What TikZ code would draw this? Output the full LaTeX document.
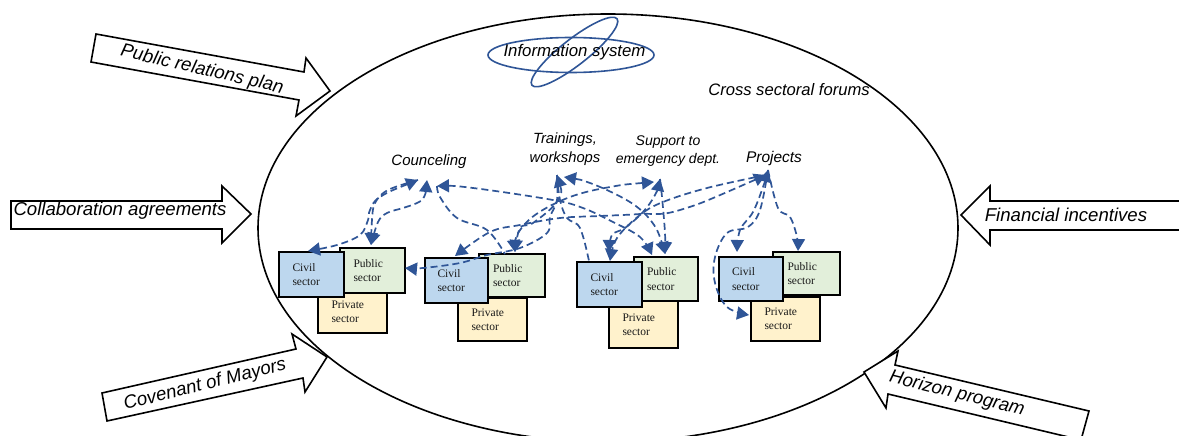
\documentclass[tikz,border=0pt]{standalone}
\usepackage{fontspec}
\setmainfont{Liberation Serif}
\newfontfamily\lab{Liberation Sans}
\usetikzlibrary{arrows.meta,shapes.geometric}
\definecolor{flowblue}{HTML}{2F5597}
\definecolor{civilc}{HTML}{BDD7EE}
\definecolor{publicc}{HTML}{E2EFDA}
\definecolor{privatec}{HTML}{FFF2CC}
\tikzset{
  x=1pt,y=-1pt,
  bigarrow/.style={draw=black,line width=1.6pt,fill=white,line join=miter},
  lbl/.style={font=\lab\itshape\fontsize{15}{17}\selectfont,align=center,inner sep=0pt,text=black},
  lblsmall/.style={lbl,font=\lab\itshape\fontsize{14}{18.5}\selectfont},
  arrlbl/.style={font=\lab\itshape\fontsize{18.6}{20}\selectfont,inner sep=0pt,text=black},
  sector/.style={draw=black,line width=2pt,anchor=north west,align=left,inner sep=0pt,
     font=\fontsize{11.5}{14.3}\selectfont,text=black!90},
  civilbox/.style={sector,fill=civilc,text width=38pt},
  publicbox/.style={sector,fill=publicc,text width=38pt},
  privatebox/.style={sector,fill=privatec,text width=42pt},
  flow/.style={draw=flowblue,line width=1.7pt,dash pattern=on 7pt off 4pt,
     -{Triangle[length=12pt,width=13pt,fill=flowblue]}},
  flowb/.style={flow,{Triangle[length=12pt,width=13pt,fill=flowblue]}-{Triangle[length=12pt,width=13pt,fill=flowblue]}},
  flowplain/.style={draw=flowblue,line width=1.7pt,dash pattern=on 7pt off 4pt},
  infoell/.style={draw=flowblue,line width=1.6pt},
}
\begin{document}
\begin{tikzpicture}
\useasboundingbox (0,0) rectangle (1179,436);
\clip (0,0) rectangle (1179,436);
\fill[white] (0,0) rectangle (1179,436);

% main ellipse
\node[draw=black,line width=1.6pt,ellipse,minimum width=700pt,minimum height=428pt,inner sep=0pt] (forum) at (608,228) {};

% information system
\node[infoell,ellipse,minimum width=166pt,minimum height=35pt,inner sep=0pt] (infoA) at (571,55) {};
\node[infoell,ellipse,minimum width=108pt,minimum height=26pt,inner sep=0pt,rotate=38] (infoB) at (574.5,52) {};
\node[lbl,font=\lab\itshape\fontsize{16.8}{17}\selectfont] (infotxt) at (574.5,52) {Information system};
\node[lbl,font=\lab\itshape\fontsize{16.6}{17}\selectfont] (cross) at (789,90) {Cross sectoral forums};

% block arrows
\draw[bigarrow] (96,34)--(91,62)--(299,100)--(296,116)--(330,91)--(306,58)--(304,72)--cycle;
\draw[bigarrow] (11,201)--(11,229)--(222,229)--(222,243)--(251,214)--(222,186)--(222,201)--cycle;
\draw[bigarrow] (102,393)--(107,421)--(303,378)--(305,392)--(327,357)--(292,334)--(296,349)--cycle;
\draw[bigarrow] (961,215)--(990,186)--(990,201)--(1185,201)--(1185,230)--(990,230)--(990,245)--cycle;
\draw[bigarrow] (864,372)--(898,351)--(895,365)--(1089,411)--(1081,440)--(888,394)--(886,408)--cycle;

\node[arrlbl,rotate=-13] (prp) at (202,70) {Public relations plan};
\node[arrlbl] (collab) at (120,211) {Collaboration agreements};
\node[arrlbl,rotate=14] (cov) at (205,385) {Covenant of Mayors};
\node[arrlbl] (fin) at (1066,215) {Financial incentives};
\node[arrlbl,rotate=-14] (hor) at (957,394) {Horizon program};

% activity labels
\node[lbl] (couns) at (429,162) {Counceling};
\node[lblsmall,font=\lab\itshape\fontsize{14.8}{18.5}\selectfont] (train) at (565,149) {Trainings,\\workshops};
\node[lblsmall] (supp) at (668,151) {Support to\\emergency dept.};
\node[lblsmall,font=\lab\itshape\fontsize{15.5}{17}\selectfont] (proj) at (774,158) {Projects};

% sector boxes
\node[privatebox,minimum width=69pt,minimum height=42pt] (pr1) at (317,290) {Private\\sector};
\node[publicbox,minimum width=65pt,minimum height=45pt] (pu1) at (339,247) {Public\\sector};
\node[civilbox,minimum width=65pt,minimum height=45pt] (ci1) at (278,251) {Civil\\sector};
\node[privatebox,minimum width=69pt,minimum height=43pt] (pr2) at (457,297) {Private\\sector};
\node[publicbox,minimum width=66pt,minimum height=43pt] (pu2) at (478,253) {Public\\sector};
\node[civilbox,minimum width=63pt,minimum height=45pt] (ci2) at (424,257) {Civil\\sector};
\node[privatebox,minimum width=69pt,minimum height=47pt] (pr3) at (608,300) {Private\\sector};
\node[publicbox,minimum width=64pt,minimum height=44pt] (pu3) at (633,256) {Public\\sector};
\node[civilbox,minimum width=65pt,minimum height=45pt] (ci3) at (576,261) {Civil\\sector};
\node[privatebox,minimum width=69pt,minimum height=44pt] (pr4) at (750,296) {Private\\sector};
\node[publicbox,minimum width=67pt,minimum height=43pt] (pu4) at (772,251) {Public\\sector};
\node[civilbox,minimum width=64pt,minimum height=44pt] (ci4) at (718,256) {Civil\\sector};

% hubs
\coordinate (hC1) at (418,180);
\coordinate (hC2) at (427,180);
\coordinate (hC3) at (437,186);
\coordinate (hT1) at (557,175);
\coordinate (hT2) at (564,177);
\coordinate (hS1) at (654,182);
\coordinate (hS2) at (660,179);
\coordinate (hP) at (766,175);
\coordinate (hP2) at (768,170);
% box ends
\coordinate (eCi1) at (308,251);
\coordinate (ePu1a) at (371,245);
\coordinate (ePu1b) at (405,268);
\coordinate (eCi2) at (455,256);
\coordinate (ePu2a) at (505,254);
\coordinate (ePu2b) at (515,252);
\coordinate (eCi3a) at (589,261);
\coordinate (eCi3b) at (609,252);
\coordinate (eCi3c) at (610,261);
\coordinate (ePu3a) at (652,255);
\coordinate (ePu3b) at (665,254);
\coordinate (eCi4) at (737,252);
\coordinate (ePr4) at (749,315);
\coordinate (ePu4) at (798,251);

% counseling
\draw[flowb] plot[smooth,tension=.6] coordinates {(hC1) (380,197) (370,210) (368,220) (360,235) (337,245) (eCi1)};
\draw[flow] plot[smooth,tension=.6] coordinates {(hC1) (388,190) (375,203) (372,220) (ePu1a)};
\draw[flowb] plot[smooth,tension=.6] coordinates {(hC2) (424,197) (417,203) (403,208) (387,213) (378,222) (ePu1a)};
\draw[flowb] plot[smooth,tension=.6] coordinates {(hC3) (473,188) (553,200) (583,208) (613,222) (640,237) (ePu3a)};
\draw[flowplain] plot[smooth,tension=.6] coordinates {(hC3) (440,197) (457,218) (487,230) (ePu2a)};

% trainings
\draw[flow] plot[smooth,tension=.6] coordinates {(hT1) (557,200) (550,217) (547,233) (520,248) (487,255) (460,263) (423,268) (ePu1b)};
\draw[flowb] plot[smooth,tension=.6] coordinates {(hT1) (558,200) (533,223) (520,228) (ePu2b)};
\draw[flowplain] plot[smooth,tension=.6] coordinates {(hT1) (560,200) (567,218) (580,228) (eCi3a)};
\draw[flowb] plot[smooth,tension=.6] coordinates {(hT2) (590,183) (623,198) (643,212) (657,230) (ePu3b)};

% support
\draw[flowb] plot[smooth,tension=.6] coordinates {(hS1) (610,187) (570,197) (535,215) (517,235) (ePu2b)};
\draw[flowb] plot[smooth,tension=.6] coordinates {(hS2) (655,195) (643,212) (625,228) (612,235) (eCi3b)};
\draw[flow] plot[smooth,tension=.6] coordinates {(hS2) (662,197) (665,233) (ePu3b)};

% projects
\draw[flowb] plot[smooth,tension=.6] coordinates {(hP) (680,210) (640,214) (600,216) (560,218) (520,225) (490,232) (eCi2)};
\draw[flow] plot[smooth,tension=.6] coordinates {(hP) (707,188) (663,202) (640,215) (617,238) (eCi3c)};
\draw[flowb] plot[smooth,tension=.6] coordinates {(hP2) (763,187) (753,212) (740,230) (eCi4)};
\draw[flow] plot[smooth,tension=.6] coordinates {(hP2) (760,210) (748,227) (727,233) (715,257) (715,283) (727,307) (ePr4)};
\draw[flow] plot[smooth,tension=.6] coordinates {(hP2) (778,208) (790,217) (797,237) (ePu4)};
\end{tikzpicture}
\end{document}
